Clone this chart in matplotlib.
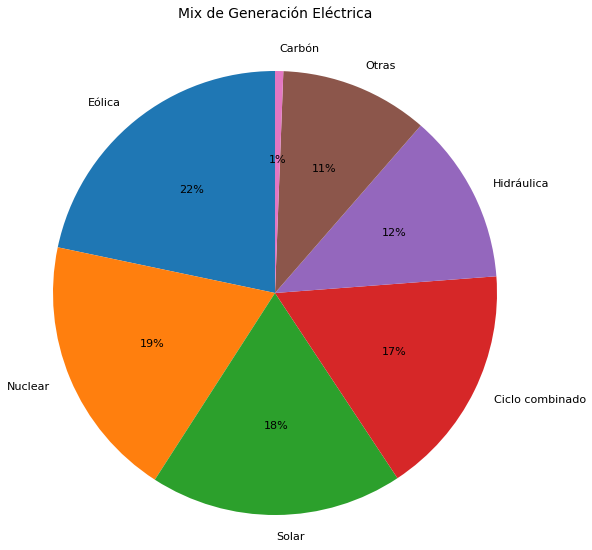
import matplotlib
matplotlib.use("Agg")
import matplotlib.pyplot as plt

fuentes = ["Eólica", "Nuclear", "Solar", "Ciclo combinado", "Hidráulica", "Otras", "Carbón"]
porcentajes = [21.7, 19.2, 18.4, 16.9, 12.4, 10.8, 0.6]

fig = plt.figure(figsize=(5.92, 5.5), dpi=100)
ax = fig.add_axes([(275 - 222) / 592, (257 - 222) / 550, 444 / 592, 444 / 550])
ax.pie(porcentajes, labels=fuentes, autopct='%1.0f%%', startangle=90,
       textprops={'fontsize': 8})
ax.set_xlim(-1, 1); ax.set_ylim(-1, 1)
ax.set_aspect('equal')
fig.text(275 / 592, 1 - 14 / 550, 'Mix de Generación Eléctrica', ha='center', va='center', fontsize=10)
plt.savefig('out.png', dpi=100)
